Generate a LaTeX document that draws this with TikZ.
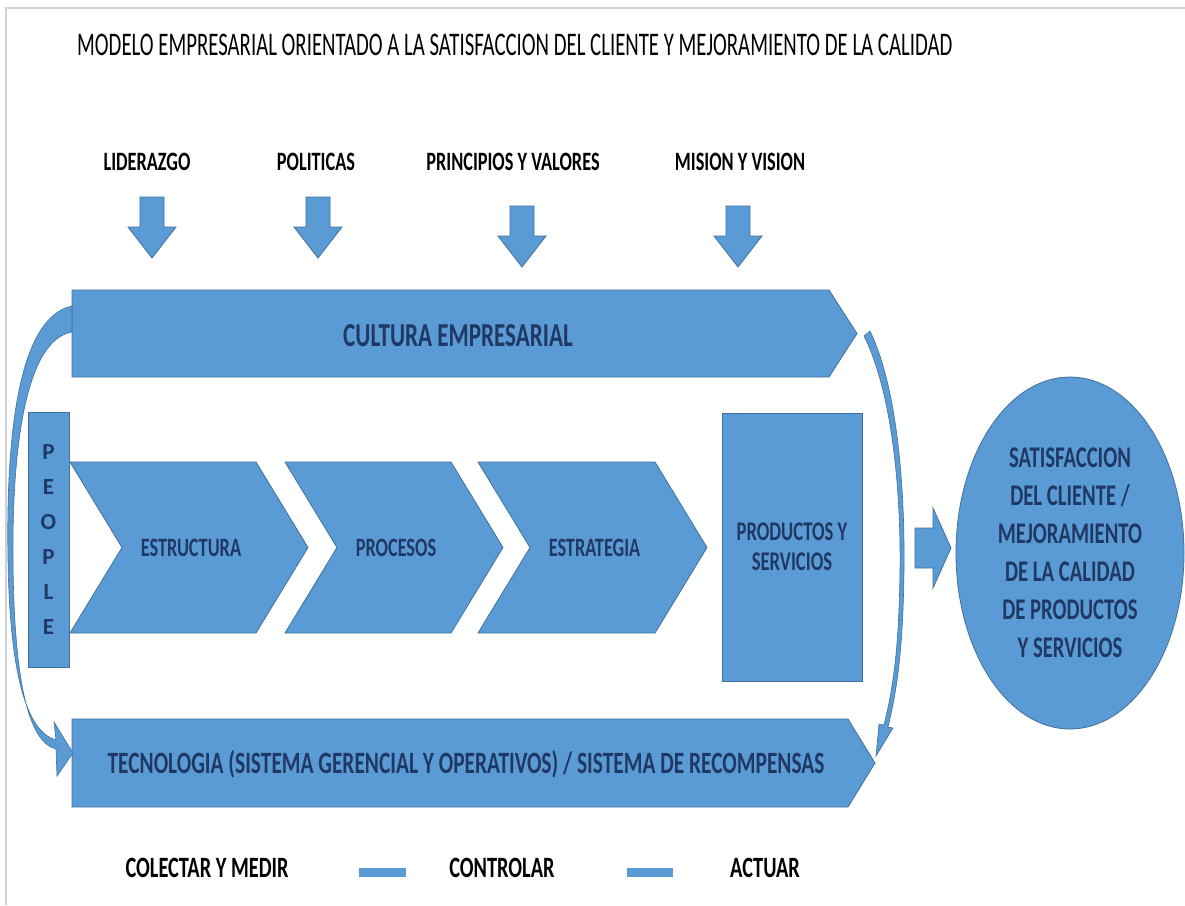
\documentclass[tikz,border=0pt]{standalone}
\usepackage{fontspec}
\setmainfont{Carlito}
\newfontfamily\condfont[FakeStretch=0.69]{Carlito}
\newfontfamily\titlefont[FakeStretch=0.63]{Carlito}
\usetikzlibrary{shapes.geometric}
\definecolor{boxblue}{RGB}{91,155,213}
\definecolor{edgeblue}{RGB}{65,113,156}
\definecolor{navy}{RGB}{31,56,100}

\begin{document}
\begin{tikzpicture}[x=1pt,y=-1pt,
  blk/.style={fill=boxblue,draw=edgeblue,line width=0.8pt},
  loopfill/.style={fill=boxblue,draw=edgeblue,line width=0.6pt},
  captxt/.style={inner sep=0pt,text height=#1,text depth=0pt},
  toptxt/.style={captxt=17.1pt,font=\condfont\bfseries\fontsize{26.5}{26.5}\selectfont,text=black},
  bartxt/.style={captxt=20pt,font=\condfont\bfseries\fontsize{31}{31}\selectfont,text=navy},
  chevtxt/.style={captxt=17.1pt,font=\condfont\bfseries\fontsize{26.5}{26.5}\selectfont,text=navy},
  legtxt/.style={captxt=19pt,font=\condfont\bfseries\fontsize{29.5}{29.5}\selectfont,text=black}]
    \useasboundingbox (0,0) rectangle (1185,905);
    \fill[white] (0,0) rectangle (1185,905);
    \draw[gray!35,line width=1.2pt] (6,905) -- (6,8) -- (1185,8);
    % --- title ---
    \node[captxt=21pt,anchor=west,font=\titlefont\fontsize{33}{33}\selectfont] (titulo) at (77,45)
      {MODELO EMPRESARIAL ORIENTADO A LA SATISFACCION DEL CLIENTE Y MEJORAMIENTO DE LA CALIDAD};
    % --- inputs and down arrows ---
    \foreach \nm/\tx/\cx/\ax/\ay in {lider/LIDERAZGO/147/152/197, polit/POLITICAS/316/318/197,
        princ/PRINCIPIOS Y VALORES/513/522/206, mision/MISION Y VISION/740/738/206} {
      \node[toptxt] (\nm) at (\cx,162) {\tx};
      \fill[blk] (\ax-12,\ay) -- (\ax+12,\ay) -- (\ax+12,\ay+30) -- (\ax+24,\ay+30)
        -- (\ax,\ay+61) -- (\ax-24,\ay+30) -- (\ax-12,\ay+30) -- cycle;
    }
    % --- top and bottom bars ---
    \fill[blk] (72,290) -- (829,290) -- (857,333.5) -- (829,377) -- (72,377) -- cycle;
    \node[bartxt,font=\condfont\bfseries\fontsize{33.5}{33.5}\selectfont,captxt=21.5pt] (cultura) at (458,336) {CULTURA EMPRESARIAL};
    \fill[blk] (72,719) -- (848,719) -- (875,763) -- (848,807) -- (72,807) -- cycle;
    \node[bartxt] (tecno) at (466,763)
      {TECNOLOGIA (SISTEMA GERENCIAL Y OPERATIVOS) / SISTEMA DE RECOMPENSAS};
    % --- chevrons ---
    \foreach \nm/\tx/\l/\t in {estr/ESTRUCTURA/70/308, proc/PROCESOS/285/503, estra/ESTRATEGIA/478/707} {
      \fill[blk] (\l,462) -- (\t-52,462) -- (\t,547.5) -- (\t-52,633) -- (\l,633) -- (\l+52,547.5) -- cycle;
      \node[chevtxt] (\nm) at ({(\l+\t)/2+2},548) {\tx};
    }
    \node[blk,minimum width=41,minimum height=255,inner sep=0pt,align=center,
      font=\bfseries\fontsize{23}{35}\selectfont,text=navy] (people) at (48.5,539.5) {P\\E\\O\\P\\L\\E};
    \node[blk,minimum width=140,minimum height=268,inner sep=0pt,align=center,
      font=\condfont\bfseries\fontsize{27}{30}\selectfont,text=navy] (prod) at (792,547) {PRODUCTOS Y\\SERVICIOS};
    % --- result ---
    \fill[blk] (915,528) -- (933,528) -- (933,508) -- (951,548) -- (933,588) -- (933,568) -- (915,568) -- cycle;
    \node[ellipse,blk,minimum width=228,minimum height=352,inner sep=0pt,align=center,
      font=\condfont\bfseries\fontsize{30}{38}\selectfont,text=navy] (satis) at (1070,553)
      {SATISFACCION\\DEL CLIENTE /\\MEJORAMIENTO\\DE LA CALIDAD\\DE PRODUCTOS\\Y SERVICIOS};
    % --- loop arrows ---
    \fill[loopfill] (72,306) .. controls (15,318) and (6,450) .. (8,560)
      .. controls (10,680) and (28,732) .. (56,740) -- (54,722) -- (73,753) -- (57,776) -- (56,749)
      .. controls (28,742) and (14,680) .. (13,560) .. controls (12,450) and (25,340) .. (72,332) -- cycle;
    \fill[loopfill] (864,336) -- (870,331) .. controls (896,385) and (905,480) .. (904,570)
      .. controls (903,650) and (897,690) .. (888,727) -- (893,728) -- (876,756) -- (879,724) -- (884,725)
      .. controls (893,688) and (899,650) .. (900,570) .. controls (901,485) and (891,390) .. (864,336) -- cycle;
    % --- legend ---
    \node[legtxt] (colect) at (207,868) {COLECTAR Y MEDIR};
    \node[legtxt] (contr) at (502,868) {CONTROLAR};
    \node[legtxt] (actuar) at (765,868) {ACTUAR};
    \fill[boxblue] (359,868) rectangle (406,877);
    \fill[boxblue] (627,868) rectangle (673,877);
\end{tikzpicture}
\end{document}
